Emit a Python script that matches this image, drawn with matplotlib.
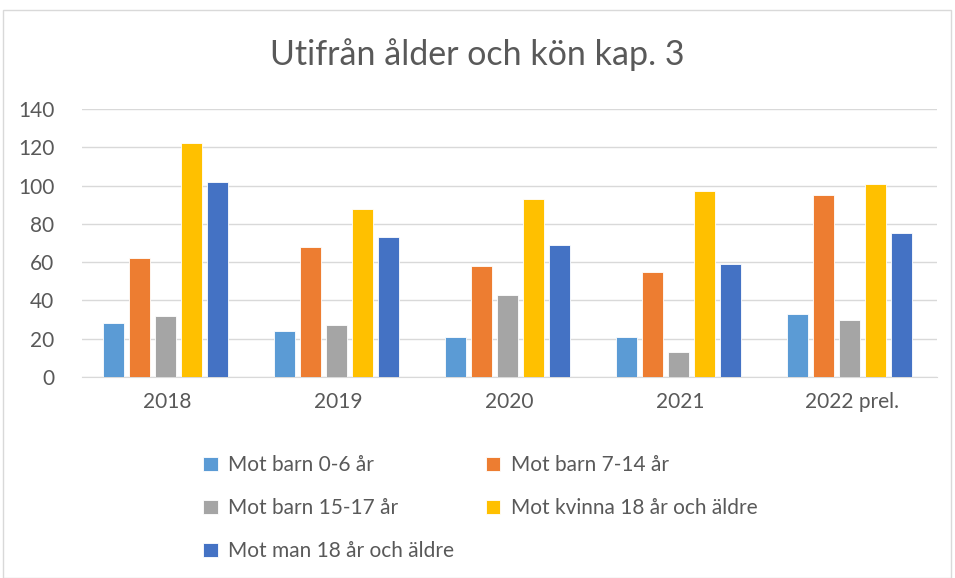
import matplotlib
matplotlib.use("Agg")
import matplotlib.pyplot as plt
import numpy as np
from matplotlib.patches import Rectangle

categories = ["2018", "2019", "2020", "2021", "2022 prel."]
series_names = ["Mot barn 0-6 år", "Mot barn 7-14 år", "Mot barn 15-17 år",
                "Mot kvinna 18 år och äldre", "Mot man 18 år och äldre"]
barn_0_6 = [28, 24, 21, 21, 33]
barn_7_14 = [62, 68, 58, 55, 95]
barn_15_17 = [32, 27, 43, 13, 30]
kvinna_18 = [122, 88, 93, 97, 101]
man_18 = [102, 73, 69, 59, 75]
series = [barn_0_6, barn_7_14, barn_15_17, kvinna_18, man_18]
colors = ["#5B9BD5", "#ED7D31", "#A5A5A5", "#FFC000", "#4472C4"]

plt.rcParams['font.family'] = ['Lato', 'DejaVu Sans']
fig = plt.figure(figsize=(9.55, 5.78), dpi=100)
fig.patches.append(Rectangle((3/955, 0), 948/955, 1 - 10/578, transform=fig.transFigure,
                             fill=False, edgecolor="#D9D9D9", linewidth=1))
ax = fig.add_axes([82/955, 1 - 377/578, 855/955, 268/578])

x = np.arange(len(categories))
step = 0.152
width = 0.122
for i, (vals, c, name) in enumerate(zip(series, colors, series_names)):
    ax.bar(x + (i - 2) * step - 0.01, vals, width=width, color=c, label=name,
           edgecolor="white", linewidth=0.6, zorder=3)

ax.set_xlim(-0.5, len(categories) - 0.5)
ax.set_ylim(0, 140)
ax.set_yticks(range(0, 141, 20))
ax.set_xticks(x)
ax.set_xticklabels(categories)
ax.grid(axis='y', color="#D9D9D9", linewidth=1, zorder=0)
for s in ["top", "right", "left"]:
    ax.spines[s].set_visible(False)
ax.spines["bottom"].set_color("#D9D9D9")
ax.tick_params(axis='both', length=0, labelsize=15, colors="#595959")
ax.tick_params(axis='x', pad=11)
ax.tick_params(axis='y', pad=20)

fig.text(0.5, 1 - 55/578, "Utifrån ålder och kön kap. 3", ha="center", va="center",
         fontsize=24.5, color="#595959")

handles, labels = ax.get_legend_handles_labels()
order = [0, 2, 4, 1, 3]
leg = fig.legend([handles[i] for i in order], [labels[i] for i in order],
                 ncol=2, loc="upper left",
                 bbox_to_anchor=(193/955, 1 - 445/578), frameon=False,
                 fontsize=15, handlelength=0.7, handleheight=0.7,
                 columnspacing=1.5, labelspacing=1.1, handletextpad=0.5,
                 borderpad=0)
for t in leg.get_texts():
    t.set_color("#595959")

fig.savefig("out.png", dpi=100)
